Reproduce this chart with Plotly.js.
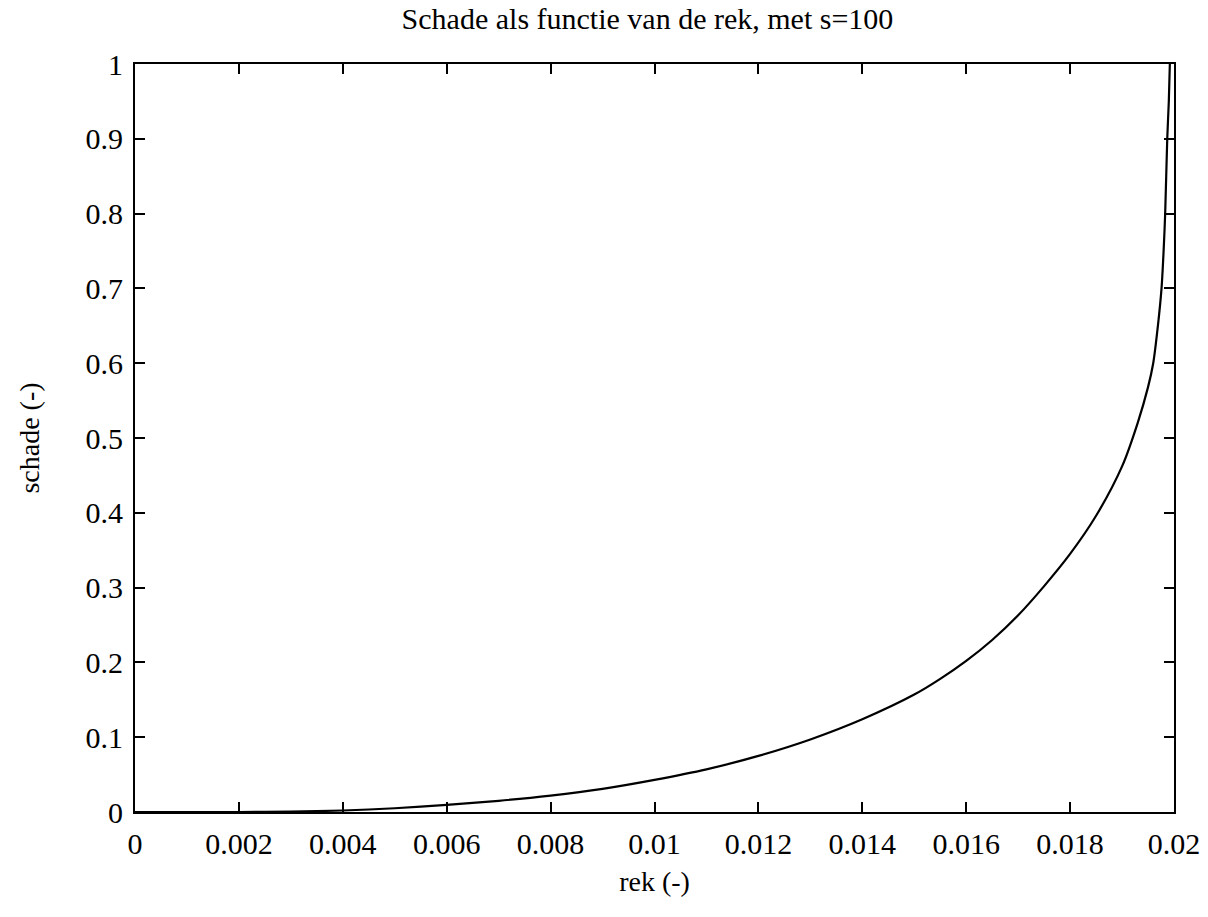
<!DOCTYPE html>
<html>
<head>
<meta charset="utf-8">
<script src="https://cdn.plot.ly/plotly-3.0.1.min.js"></script>
<style>html,body{margin:0;padding:0;background:#fff;}#chart{width:1208px;height:917px;}</style>
</head>
<body>
<div id="chart"></div>
<script>
const rek = [0, 0.001, 0.002, 0.003, 0.004, 0.005, 0.006, 0.007, 0.008, 0.009, 0.010, 0.011, 0.012, 0.013, 0.014, 0.015, 0.0155, 0.016, 0.0165, 0.017, 0.0175, 0.018, 0.0185, 0.019, 0.0193, 0.0195, 0.0196, 0.01969, 0.01976, 0.0198, 0.01983, 0.01987, 0.0199, 0.01992];
const schade = [0, 0, 0, 0.0006, 0.002, 0.005, 0.0095, 0.015, 0.022, 0.031, 0.043, 0.057, 0.075, 0.097, 0.124, 0.157, 0.178, 0.202, 0.23, 0.263, 0.302, 0.345, 0.396, 0.462, 0.52, 0.568, 0.60, 0.65, 0.70, 0.75, 0.80, 0.90, 0.95, 1.0];
const xTicks = [0, 0.002, 0.004, 0.006, 0.008, 0.01, 0.012, 0.014, 0.016, 0.018, 0.02];
const xTickLabels = ["0", "0.002", "0.004", "0.006", "0.008", "0.01", "0.012", "0.014", "0.016", "0.018", "0.02"];
const yTicks = [0, 0.1, 0.2, 0.3, 0.4, 0.5, 0.6, 0.7, 0.8, 0.9, 1];
const yTickLabels = ["0", "0.1", "0.2", "0.3", "0.4", "0.5", "0.6", "0.7", "0.8", "0.9", "1"];

const font = "Liberation Serif, Times New Roman, serif";
const trace = {
  x: rek, y: schade, type: "scatter", mode: "lines",
  line: {color: "#000", width: 2.2, shape: "spline", smoothing: 0.8},
  hoverinfo: "skip"
};
const layout = {
  width: 1208, height: 917,
  paper_bgcolor: "#fff", plot_bgcolor: "#fff",
  margin: {l: 135, r: 34, t: 64, b: 105},
  showlegend: false,
  font: {family: font, color: "#000", size: 30},
  title: {text: "Schade als functie van de rek, met s=100", font: {family: font, size: 30, color: "#000"},
          x: 0.536, xanchor: "center", y: 0.98, yanchor: "middle"},
  xaxis: {
    range: [0, 0.02], tickvals: xTicks, ticktext: xTickLabels,
    ticks: "inside", ticklen: 10, tickwidth: 2, tickcolor: "#000",
    showline: true, linecolor: "#000", linewidth: 2, mirror: "ticks",
    showgrid: false, zeroline: false,
    tickfont: {family: font, size: 30, color: "#000"},
    ticklabelstandoff: 4,
    title: {text: "rek (-)", font: {family: font, size: 28, color: "#000"}, standoff: 12}
  },
  yaxis: {
    range: [0, 1], tickvals: yTicks, ticktext: yTickLabels,
    ticks: "inside", ticklen: 10, tickwidth: 2, tickcolor: "#000",
    showline: true, linecolor: "#000", linewidth: 2, mirror: "ticks",
    showgrid: false, zeroline: false,
    tickfont: {family: font, size: 30, color: "#000"},
    ticklabelstandoff: 4,
    title: {text: "schade (-)", font: {family: font, size: 28, color: "#000"}, standoff: 38}
  }
};
Plotly.newPlot("chart", [trace], layout, {staticPlot: true, displayModeBar: false});
</script>
</body>
</html>
